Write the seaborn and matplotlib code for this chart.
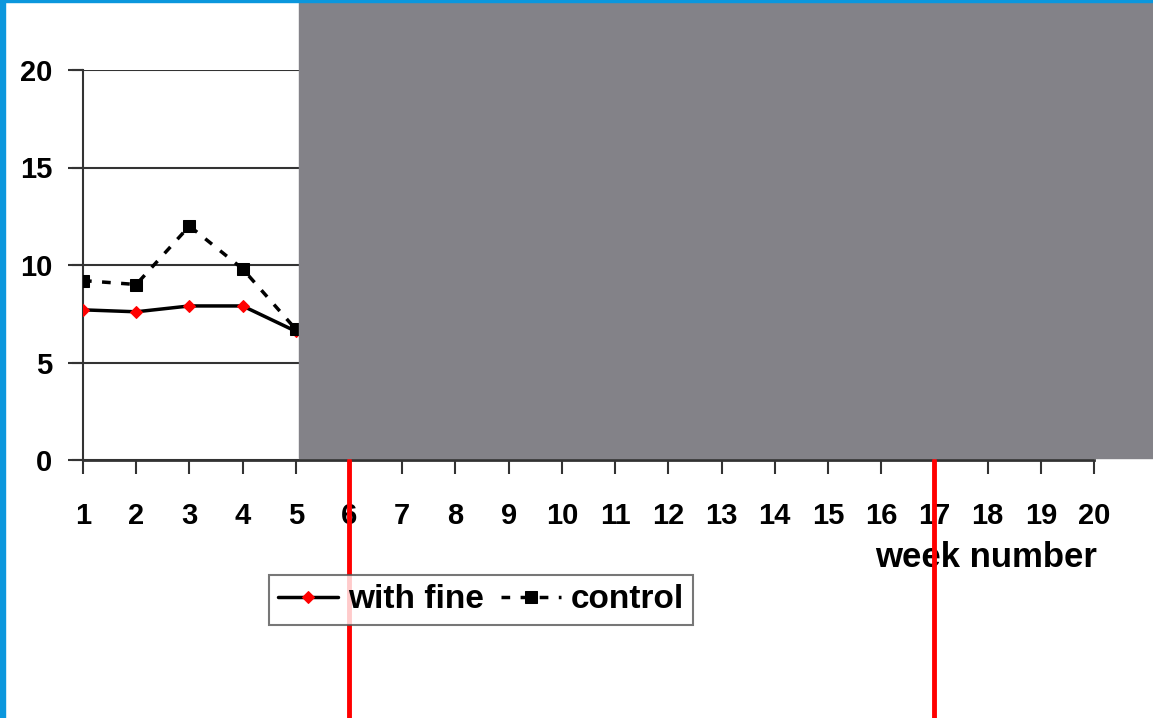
import matplotlib
matplotlib.use('Agg')
import matplotlib.pyplot as plt
from matplotlib.patches import Rectangle
import seaborn as sns
import pandas as pd

# visible part of the chart (weeks 1-5), the rest is covered
weeks = [1, 2, 3, 4, 5]
with_fine = [7.7, 7.6, 7.9, 7.9, 6.6]
control = [9.2, 9.0, 12.0, 9.8, 6.7]
week_ticks = list(range(1, 21))
y_ticks = [0, 5, 10, 15, 20]
marked_weeks = [6, 17]

sns.set_theme(style='white')
plt.rcParams['font.family'] = ['Liberation Sans', 'DejaVu Sans']
plt.rcParams['font.weight'] = 'bold'

df = pd.DataFrame({'week': weeks, 'with fine': with_fine, 'control': control})

fig = plt.figure(figsize=(11.53, 7.18), dpi=100)
ax = fig.add_axes([83/1153, 1-460/718, (1094-83)/1153, (460-70)/718])

sns.lineplot(data=df, x='week', y='with fine', ax=ax, color='black', lw=2.5,
             marker='D', markersize=6, markerfacecolor='red', markeredgecolor='red',
             label='with fine', zorder=3)
sns.lineplot(data=df, x='week', y='control', ax=ax, color='black', lw=2.5,
             linestyle=(0, (2.5, 3)), marker='s', markersize=8,
             markerfacecolor='black', markeredgecolor='black',
             label='control', zorder=3)

ax.set_xlim(1, 20)
ax.set_ylim(0, 20)
ax.set_xticks(week_ticks)
ax.set_yticks(y_ticks)
ax.set_xlabel('')
ax.set_ylabel('')
ax.tick_params(axis='y', direction='out', length=11, width=1.5, color='#333333',
               labelsize=21, pad=11, left=True, labelcolor='black')
ax.tick_params(axis='x', direction='out', length=10, width=1.5, color='#333333',
               labelsize=21, pad=20, bottom=True, labelcolor='black')
for lab in ax.get_xticklabels() + ax.get_yticklabels():
    lab.set_fontweight('bold')
ax.grid(axis='y', color='#333333', lw=1.5)
ax.grid(axis='x', visible=False)
for s in ['top', 'right']:
    ax.spines[s].set_visible(False)
ax.spines['left'].set_color('#333333')
ax.spines['left'].set_linewidth(1.5)
ax.spines['bottom'].set_color('#333333')
ax.spines['bottom'].set_linewidth(2)
ax.get_legend().remove()

# y-tick lines extend left as the gridline does
for y in y_ticks:
    ax.plot([1 - 11/53.2, 1], [y, y], color='#333333', lw=1.5, clip_on=False)

ax.text(20.06, -5.0, 'week number', ha='right', va='center', fontsize=25,
        fontweight='bold', color='black')

handles, labels = ax.get_legend_handles_labels()
leg = fig.legend(handles, labels, loc='center', bbox_to_anchor=(481/1153, 1-600/718),
                 ncol=2, frameon=True, fancybox=False, handlelength=1.8,
                 handletextpad=0.3, columnspacing=0.5, borderpad=0.28,
                 prop={'weight': 'bold', 'size': 24})
leg.get_frame().set_edgecolor('#555555')
leg.get_frame().set_linewidth(1.5)
for t in leg.get_texts():
    t.set_color('black')

# covering box and border
fig.add_artist(Rectangle((299/1153, 1-458/718), 854/1153, 456/718,
                         transform=fig.transFigure, color='#838288', zorder=10))
fig.add_artist(Rectangle((0, 0), 5/1153, 1, transform=fig.transFigure,
                         color='#0b97dd', zorder=11))
fig.add_artist(Rectangle((0, 1-2/718), 1, 2/718, transform=fig.transFigure,
                         color='#0b97dd', zorder=11))

# red marker lines below the axis
for w in marked_weeks:
    ax.plot([w, w], [0, -13.3], color='#ff0000', lw=3.5, clip_on=False, zorder=12)

fig.savefig('out.png', dpi=100)
